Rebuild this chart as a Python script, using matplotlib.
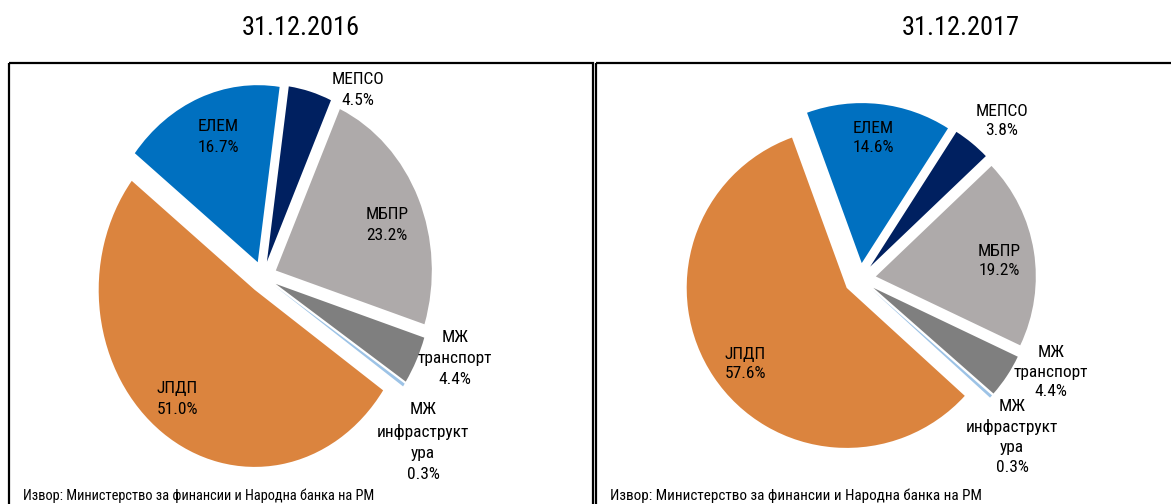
import matplotlib
matplotlib.use('Agg')
import matplotlib.pyplot as plt
from matplotlib.patches import Rectangle

# data
names = ['ЕЛЕМ', 'МЕПСО', 'МБПР', 'МЖ\nтранспорт', 'МЖ\nинфраструкт\nура', 'ЈПДП']
share_2016 = [16.7, 4.5, 23.2, 4.4, 0.3, 51.0]
share_2017 = [14.6, 3.8, 19.2, 4.4, 0.3, 57.6]
colors = ['#0070C0', '#002060', '#AEAAAA', '#7F7F7F', '#9DC3E6', '#DB843E']
titles = ['31.12.2016', '31.12.2017']
source = 'Извор: Министерство за финансии и Народна банка на РМ'

# layout in pixels (figure is 1171 x 504)
W, H = 1171, 504
label_xy_2016 = [(218, 137), (358, 90), (387, 225), (455, 359), (423, 442), (177, 399)]
label_xy_2017 = [(873, 138), (1002, 121), (999, 261), (1051, 372), (1012, 437), (745, 364)]

plt.rcParams['font.family'] = ['Roboto Condensed', 'DejaVu Sans']


def draw_pie(fig, values, start, center, radius, stretch, explode):
    ax = fig.add_axes([0, 0, 1, 1])
    cx, cy = center
    # explode in pie() is in data units, so scale it by the radius
    ax.pie(values, colors=colors, startangle=start, counterclock=False,
           explode=[explode * radius] * len(values), radius=radius,
           center=(cx, (H - cy) / stretch),
           wedgeprops=dict(linewidth=0))
    ax.set_aspect('auto')
    ax.set_xlim(0, W)
    ax.set_ylim(0, H / stretch)
    ax.axis('off')
    return ax


def main():
    fig = plt.figure(figsize=(W / 100, H / 100), dpi=100)
    bg = fig.add_axes([0, 0, 1, 1])
    bg.set_xlim(0, W)
    bg.set_ylim(H, 0)
    bg.axis('off')

    # frames around each chart
    bg.add_patch(Rectangle((9, 63), 583.5, 460, fill=False, lw=1.6, ec='black'))
    bg.add_patch(Rectangle((595.7, 63), 600, 460, fill=False, lw=1.6, ec='black'))

    draw_pie(fig, share_2016, 142, (263, 277), 156, 1.135, 0.09)
    draw_pie(fig, share_2017, 110, (860, 279), 160, 1.0, 0.1)

    # text layer on top of the pies
    top = fig.add_axes([0, 0, 1, 1])
    top.set_xlim(0, W)
    top.set_ylim(H, 0)
    top.axis('off')

    top.text(301, 28, titles[0], ha='center', va='center', fontsize=19)
    top.text(961, 28, titles[1], ha='center', va='center', fontsize=19)

    for name, v, (x, y) in zip(names, share_2016, label_xy_2016):
        top.text(x, y, name + '\n' + f'{v:.1f}%', ha='center', va='center',
                 fontsize=12.5, linespacing=1.5)
    for name, v, (x, y) in zip(names, share_2017, label_xy_2017):
        top.text(x, y, name + '\n' + f'{v:.1f}%', ha='center', va='center',
                 fontsize=12.5, linespacing=1.38)

    top.text(23, 496, source, ha='left', va='center', fontsize=10.4)
    top.text(610, 496, source, ha='left', va='center', fontsize=10.9)

    plt.savefig('out.png', dpi=100)


if __name__ == '__main__':
    main()
